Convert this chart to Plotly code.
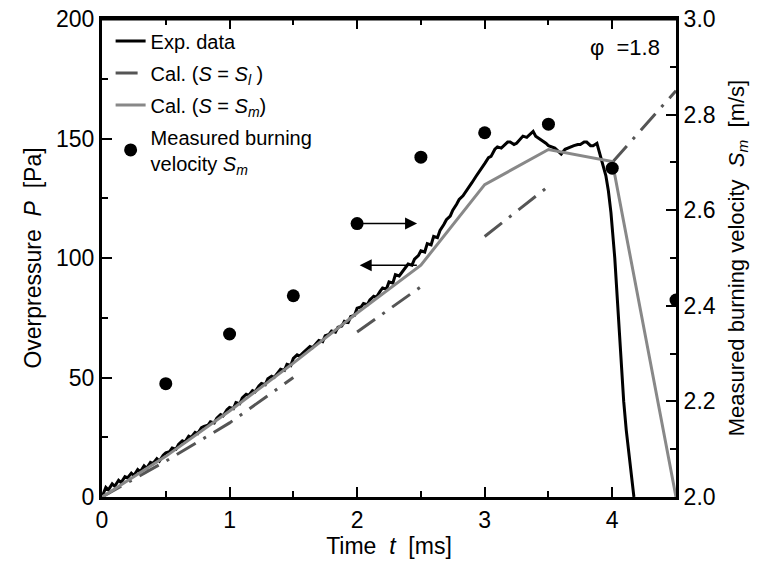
import plotly.graph_objects as go

# ---------------- data ----------------
exp_t = [0.00, 0.03, 0.05, 0.08, 0.10, 0.13, 0.15, 0.18, 0.20, 0.23, 0.25, 0.28, 0.30, 0.33, 0.35, 0.38,
         0.40, 0.43, 0.45, 0.48, 0.50, 0.53, 0.55, 0.58, 0.60, 0.63, 0.65, 0.68, 0.70, 0.73, 0.75, 0.78,
         0.80, 0.83, 0.85, 0.88, 0.90, 0.93, 0.95, 0.98, 1.00, 1.03, 1.05, 1.08, 1.10, 1.13, 1.15, 1.18,
         1.20, 1.23, 1.25, 1.28, 1.30, 1.33, 1.35, 1.38, 1.40, 1.43, 1.45, 1.48, 1.50, 1.53, 1.55, 1.58,
         1.60, 1.63, 1.65, 1.68, 1.70, 1.73, 1.75, 1.78, 1.80, 1.83, 1.85, 1.88, 1.90, 1.93, 1.95, 1.98,
         2.00, 2.03, 2.05, 2.08, 2.10, 2.13, 2.15, 2.18, 2.20, 2.23, 2.25, 2.28, 2.30, 2.33, 2.35, 2.38,
         2.40, 2.43, 2.45, 2.48, 2.50, 2.53, 2.55, 2.58, 2.60, 2.63, 2.65, 2.68, 2.70, 2.73, 2.75, 2.78,
         2.80, 2.83, 2.85, 2.88, 2.90, 2.93, 2.95, 2.98, 3.00, 3.03, 3.05, 3.08, 3.10, 3.13, 3.15, 3.18,
         3.20, 3.23, 3.25, 3.28, 3.30, 3.33, 3.35, 3.38, 3.40, 3.43, 3.45, 3.48, 3.50, 3.53, 3.55, 3.58,
         3.60, 3.63, 3.65, 3.68, 3.70, 3.73, 3.75, 3.78, 3.80, 3.83, 3.85, 3.88, 3.90, 3.93, 3.95, 3.97,
         3.99, 4.02, 4.04, 4.07, 4.09, 4.11, 4.13, 4.15, 4.17]
exp_p = [0.0, 4.0, 3.0, 5.5, 4.5, 7.0, 6.0, 8.5, 8.0, 10.0, 9.0, 11.5, 10.5, 13.0, 12.0, 14.5,
         14.0, 16.0, 15.0, 17.5, 18.5, 19.0, 20.5, 20.0, 22.0, 23.5, 23.0, 25.5, 25.0, 27.0, 26.5, 29.0,
         29.5, 30.0, 31.5, 31.0, 33.0, 34.5, 34.0, 36.5, 37.5, 37.0, 39.5, 39.0, 41.5, 43.0, 42.5, 44.5,
         44.0, 46.5, 47.5, 47.0, 49.5, 50.5, 50.0, 52.0, 53.5, 53.0, 55.5, 55.0, 58.0, 59.5, 59.0, 60.5,
         61.5, 63.0, 62.5, 64.5, 65.5, 65.0, 67.5, 68.0, 69.5, 69.0, 71.0, 71.5, 73.5, 73.0, 75.5, 76.0,
         79.0, 79.5, 81.0, 80.5, 82.5, 84.0, 83.5, 86.0, 87.5, 87.0, 90.0, 89.5, 93.0, 92.5, 94.0, 96.5,
         97.5, 97.0, 99.5, 101.0, 103.0, 102.5, 106.0, 105.5, 109.0, 108.5, 111.5, 114.0, 116.0, 117.5, 120.0, 122.5,
         124.5, 126.0, 127.5, 129.5, 131.5, 134.0, 135.5, 137.5, 139.5, 142.0, 142.5, 145.5, 146.5, 146.0, 147.0, 148.5,
         148.5, 147.5, 148.0, 150.0, 151.0, 150.5, 151.5, 153.0, 151.0, 150.0, 149.0, 148.0, 147.0, 146.5, 146.0, 144.5,
         143.5, 145.5, 146.0, 146.5, 147.0, 147.5, 147.5, 148.5, 148.5, 147.0, 147.0, 148.0, 144.0, 139.0, 134.5, 128.0,
         119.0, 100.0, 82.0, 60.0, 40.0, 28.0, 18.0, 8.0, 0.0]

sl_t = [0.0, 0.5, 1.0, 1.5, None, 2.0, 2.5, None, 3.0, 3.5, None, 4.0, 4.5]
sl_p = [0, 15, 31, 50, None, 69, 88, None, 109, 130, None, 140, 170]

sm_t = [0.0, 0.5, 1.0, 1.5, 2.0, 2.5, 3.0, 3.5, 4.0, 4.5]
sm_p = [0, 17, 36, 56, 77, 97, 130.7, 145.4, 140.4, 0]

meas_t = [0.5, 1.0, 1.5, 2.0, 2.5, 3.0, 3.5, 4.0, 4.5]
meas_s = [2.237, 2.341, 2.421, 2.572, 2.711, 2.762, 2.780, 2.688, 2.412]

x_ticks = [0, 1, 2, 3, 4]
y_ticks = [0, 50, 100, 150, 200]
y2_ticks = [2.0, 2.2, 2.4, 2.6, 2.8, 3.0]
y2_labels = ["2.0", "2.2", "2.4", "2.6", "2.8", "3.0"]

FONT = "Liberation Sans, Arial, sans-serif"

fig = go.Figure()
fig.add_trace(go.Scatter(x=exp_t, y=exp_p, mode="lines", name="Exp. data",
                         line=dict(color="black", width=3), legendgroup="a"))
fig.add_trace(go.Scatter(x=sl_t, y=sl_p, mode="lines",
                         name="Cal. (<i>S</i> = <i>S</i><sub><i>l</i></sub> )",
                         line=dict(color="#555555", width=3, dash="22px,9px,3px,9px"),
                         connectgaps=False, legendgroup="b"))
fig.add_trace(go.Scatter(x=sm_t, y=sm_p, mode="lines",
                         name="Cal. (<i>S</i> = <i>S</i><sub><i>m</i></sub>)",
                         line=dict(color="#888888", width=3), legendgroup="c"))
fig.add_trace(go.Scatter(x=meas_t, y=meas_s, mode="markers", yaxis="y2",
                         name="Measured burning<br>velocity <i>S</i><sub><i>m</i></sub>",
                         marker=dict(color="black", size=13), legendgroup="d"))

# arrows
fig.add_annotation(x=2.47, y=meas_s[3], xref="x", yref="y2", ax=2.0, ay=meas_s[3], axref="x", ayref="y2",
                   showarrow=True, arrowhead=2, arrowsize=1.6, arrowwidth=1.5, arrowcolor="black", text="")
fig.add_annotation(x=2.02, y=sm_p[5], xref="x", yref="y", ax=2.48, ay=sm_p[5], axref="x", ayref="y",
                   showarrow=True, arrowhead=2, arrowsize=1.6, arrowwidth=1.5, arrowcolor="black", text="")

fig.add_annotation(x=0.975, y=0.94, xref="paper", yref="paper", xanchor="right", yanchor="middle",
                   text="φ  =1.8", showarrow=False, font=dict(size=22, color="black", family=FONT))

# top frame line of the plot area
fig.add_shape(type="line", xref="paper", yref="paper", x0=0, x1=1, y0=1, y1=1,
              line=dict(color="black", width=3), layer="above")

axis_common = dict(showline=True, linecolor="black", linewidth=3, ticks="inside", automargin=False,
                   tickcolor="black", tickwidth=2, showgrid=False, zeroline=False,
                   tickfont=dict(size=23, color="black", family=FONT))

fig.update_layout(
    width=764, height=565,
    margin=dict(l=102, r=88, t=19, b=68),
    paper_bgcolor="white", plot_bgcolor="white",
    font=dict(family=FONT, color="black"),
    showlegend=True,
    legend=dict(x=0.015, y=0.995, xanchor="left", yanchor="top", bgcolor="rgba(0,0,0,0)",
                font=dict(size=20, color="black", family=FONT), tracegroupgap=3,
                traceorder="grouped"),
    xaxis=dict(range=[0, 4.5], tickvals=x_ticks, ticklen=10, mirror="ticks",
               minor=dict(dtick=0.5, ticklen=6, tickcolor="black", tickwidth=2, ticks="inside"),
               title=dict(text="Time  <i>t</i>  [ms]", font=dict(size=23, family=FONT), standoff=2),
               **axis_common),
    yaxis=dict(range=[0, 200], tickvals=y_ticks, ticklen=10,
               minor=dict(dtick=25, ticklen=6, tickcolor="black", tickwidth=2, ticks="inside"),
               title=dict(text="Overpressure  <i>P</i>  [Pa]", font=dict(size=23, family=FONT), standoff=8),
               **axis_common),
    yaxis2=dict(range=[2.0, 3.0], tickvals=y2_ticks, ticktext=y2_labels, overlaying="y", side="right",
                ticklen=10,
                minor=dict(dtick=0.1, ticklen=6, tickcolor="black", tickwidth=2, ticks="inside"),
                title=dict(text="Measured burning velocity  <i>S</i><sub><i>m</i></sub>  [m/s]",
                           font=dict(size=22, family=FONT), standoff=14),
                **axis_common),
)

fig.write_html("out.html", config={"displayModeBar": False},
               post_script="document.body.style.margin='0';document.body.style.overflow='hidden';")
